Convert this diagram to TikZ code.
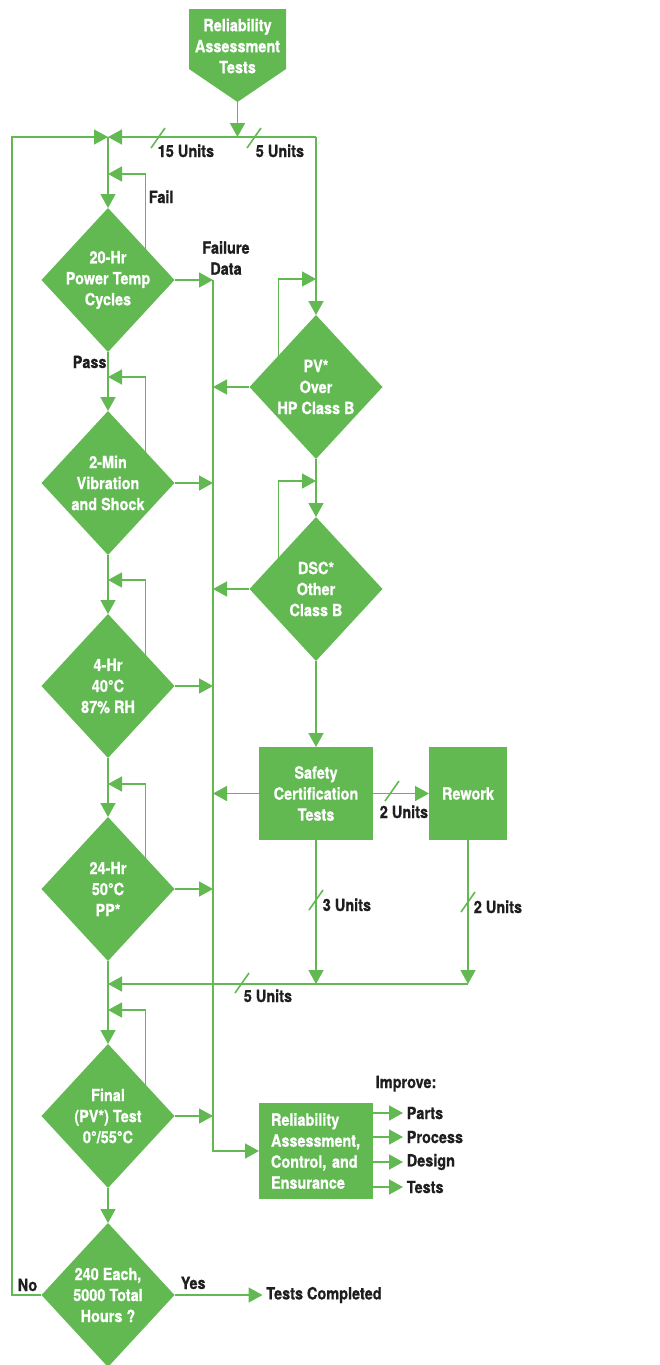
\documentclass[tikz,border=0pt]{standalone}
\usepackage{fontspec}
\setmainfont{TeX Gyre Heros}[FakeStretch=0.86, BoldFeatures={FakeBold=0.8}]
\usetikzlibrary{arrows.meta,positioning,shapes.geometric}

\definecolor{hpgreen}{RGB}{98,185,82}
\definecolor{inkblack}{RGB}{30,30,30}

\begin{document}
\begin{tikzpicture}[
    x = 1pt, y = -1pt, % page units, y running down
    > = {Triangle[length=14pt, width=15pt]}, % arrow head style
    line width = 1.6pt,
    font = \fontsize{16.8}{21}\selectfont\bfseries,
    flow/.style = {draw=hpgreen, ->},
    test/.style = {diamond, fill=hpgreen, text=white, align=center,
        minimum width=133pt, minimum height=144pt, inner sep=-12pt, outer sep=0pt},
    stage/.style = {rectangle, fill=hpgreen, text=white, align=center,
        minimum height=93pt, outer sep=0pt},
    note/.style = {text=inkblack, inner sep=0pt},
    slash/.pic = {\draw[hpgreen] (-7pt,-10pt) -- (7pt,10pt);}
    ]

    \useasboundingbox (0,0) rectangle (659,1365);

    % start box
    \fill[hpgreen] (189,9) -- (286,9) -- (286,69) -- (237.5,102) -- (189,69) -- cycle;
    \node[text=white, align=center] (rat) at (237.5,46) {Reliability\\Assessment\\Tests};
    \coordinate (rat tip) at (237.5,102);

    % junctions
    \coordinate (join) at (108,137);
    \coordinate (split) at (316,137);
    \coordinate (loop) at (12,137);
    \coordinate (fdata) at (213,280);
    \coordinate (merge) at (108,984);

    % left column
    \node[test] (pwr) at (108,280) {20-Hr\\Power Temp\\Cycles};
    \node[test] (vib) [below=59pt of pwr] {2-Min\\Vibration\\and Shock};
    \node[test] (hum) [below=59pt of vib] {4-Hr\\40°C\\87\% RH};
    \node[test] (bake) [below=59pt of hum] {24-Hr\\50°C\\PP*};
    \node[test] (fin) [below=83pt of bake] {Final\\(PV*) Test\\0°/55°C};
    \node[test] (hrs) [below=35pt of fin] {240 Each,\\5000 Total\\Hours ?};

    % right column
    \node[test] (pv) at (316,387) {PV*\\Over\\HP Class B};
    \node[test] (dsc) [below=58pt of pv] {DSC*\\Other\\Class B};
    \node[stage, minimum width=114pt] (safe) [below=86pt of dsc] {Safety\\Certification\\Tests};
    \node[stage, minimum width=78pt] (rework) [right=56pt of safe] {Rework};
    \node[stage, text width=90pt, align=left, inner xsep=12pt, minimum height=96pt] (rac) at (316,1151)
        {Reliability\\Assessment,\\Control, and\\Ensurance};

    % outputs
    \node[note, anchor=base west] (imp) at (375,1088) {Improve:};
    \node[note, anchor=west, inner sep=3pt] (parts) at (403,1113) {Parts};
    \node[note, anchor=west, inner sep=3pt] (process) at (403,1137) {Process};
    \node[note, anchor=west, inner sep=3pt] (design) at (403,1162) {Design};
    \node[note, anchor=west, inner sep=3pt] (tests) at (403,1187) {Tests};
    \node[note, inner sep=3pt] (done) [right=88pt of hrs] {Tests Completed};

    % labels
    \node[note, anchor=base west] (fail) at (148,203) {Fail};
    \node[note, anchor=base west] (pass) at (72,368) {Pass};
    \node[note, align=center] (fdlabel) at (226,258) {Failure\\Data};
    \node[note, anchor=base west] (no) at (17,1291) {No};
    \node[note, anchor=base west] (yes) at (180,1289) {Yes};

    % unit counts
    \pic at (158,138) {slash};
    \node[note, anchor=base west] (u15) at (157,157) {15 Units};
    \pic at (254,138) {slash};
    \node[note, anchor=base west] (u5) at (255,157) {5 Units};
    \pic at (392,791) {slash};
    \node[note, anchor=base west] (u2a) at (379,818) {2 Units};
    \pic at (316,900) {slash};
    \node[note, anchor=base west] (u3) at (322,911) {3 Units};
    \pic at (468,902) {slash};
    \node[note, anchor=base west] (u2b) at (473,913) {2 Units};
    \pic at (242,983) {slash};
    \node[note, anchor=base west] (u5b) at (243,1002) {5 Units};

    % main flow
    \draw[flow] (rat tip) -- (rat tip |- join);
    \draw[flow] (split) -- (join);
    \draw[flow] (split) -- (pv);
    \draw[flow] (join) -- (pwr);
    \draw[flow] (pwr) -- (vib);
    \draw[flow] (vib) -- (hum);
    \draw[flow] (hum) -- (bake);
    \draw[flow] (bake) -- (fin);
    \draw[flow] (fin) -- (hrs);
    \draw[flow] (hrs) -| (loop) -- (join);
    \draw[flow] (hrs) -- (done);
    \draw[flow] (pv) -- (dsc);
    \draw[flow] (dsc) -- (safe);
    \draw[flow] (safe) -- (rework);
    \draw[flow] (safe) -- (safe |- merge);
    \draw[flow] (rework) -- (rework |- merge);
    \draw[flow] (rework |- merge) -- (merge);

    % retest on failure
    \draw[flow] (pwr.40) |- ([yshift=34pt]pwr.north);
    \draw[flow] (vib.40) |- ([yshift=34pt]vib.north);
    \draw[flow] (hum.40) |- ([yshift=34pt]hum.north);
    \draw[flow] (bake.40) |- ([yshift=33pt]bake.north);
    \draw[flow] (fin.40) |- ([yshift=34pt]fin.north);
    \draw[flow] (pv.140) |- ([yshift=36pt]pv.north);
    \draw[flow] (dsc.140) |- ([yshift=36pt]dsc.north);

    % failure data
    \draw[flow] (fdata) |- (rac);
    \draw[flow] (pwr) -- (pwr -| fdata);
    \draw[flow] (vib) -- (vib -| fdata);
    \draw[flow] (hum) -- (hum -| fdata);
    \draw[flow] (bake) -- (bake -| fdata);
    \draw[flow] (fin) -- (fin -| fdata);
    \draw[flow] (pv) -- (pv -| fdata);
    \draw[flow] (dsc) -- (dsc -| fdata);
    \draw[flow] (safe) -- (safe -| fdata);

    % improvements
    \draw[flow] (rac.east |- parts) -- (parts);
    \draw[flow] (rac.east |- process) -- (process);
    \draw[flow] (rac.east |- design) -- (design);
    \draw[flow] (rac.east |- tests) -- (tests);
\end{tikzpicture}
\end{document}
